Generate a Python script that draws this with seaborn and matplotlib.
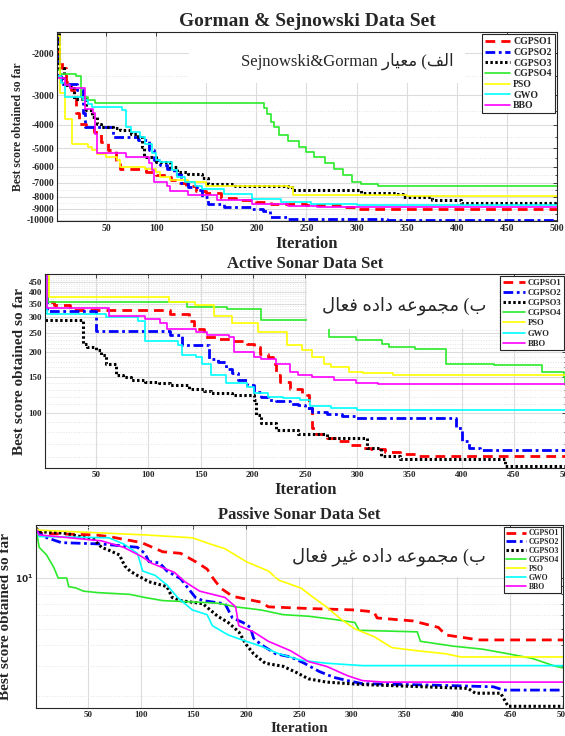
import numpy as np
import matplotlib
matplotlib.use("Agg")
import matplotlib.pyplot as plt
import seaborn as sns
from matplotlib.patches import Rectangle
from matplotlib.ticker import FixedLocator, FixedFormatter, NullFormatter

# (iteration, best score) breakpoints
ALGOS = ["CGPSO1", "CGPSO2", "CGPSO3", "CGPSO4", "PSO", "GWO", "BBO"]

# Gorman & Sejnowski
GS_CGPSO1 = [(1, -1700), (3, -2150), (6, -2300), (10, -2650), (15, -2850), (20, -3550), (23, -3950), (30, -4100),
             (38, -4300), (45, -4700), (52, -5100), (60, -5700), (64, -6100), (75, -6150), (90, -6300), (100, -6500),
             (110, -6600), (115, -6800), (122, -7000), (130, -7200), (140, -7550), (150, -7750), (165, -8100),
             (180, -8300), (200, -8400), (215, -8550), (250, -8700), (285, -8850), (300, -9000), (500, -9000)]
GS_CGPSO2 = [(1, -1700), (3, -2500), (5, -2700), (21, -2850), (27, -3580), (29, -4080), (57, -4500), (82, -4640),
             (93, -5120), (98, -5640), (104, -5900), (111, -6100), (118, -6400), (125, -7000), (132, -7300),
             (141, -7500), (146, -8000), (152, -8600), (168, -8850), (196, -9000), (207, -9200), (214, -9770),
             (232, -9950), (330, -10000), (500, -10000)]
GS_CGPSO3 = [(1, -1600), (3, -2300), (8, -2720), (14, -2800), (18, -3100), (30, -3470), (36, -3700), (41, -3950),
             (45, -4080), (57, -4140), (64, -4200), (75, -4350), (82, -4500), (86, -4950), (88, -5450), (100, -5740),
             (114, -6000), (121, -6300), (132, -6400), (146, -6700), (152, -7050), (179, -7200), (232, -7300),
             (236, -7500), (304, -7700), (339, -7800), (346, -8050), (375, -8250), (404, -8500), (500, -8500)]
GS_CGPSO4 = [(1, -2350), (4, -2450), (20, -2500), (25, -3050), (32, -3150), (39, -3250), (204, -3250), (208, -3400),
             (211, -3600), (215, -3900), (218, -4080), (223, -4420), (232, -4650), (243, -4950), (250, -5200),
             (257, -5450), (268, -5800), (277, -6100), (286, -6500), (295, -6950), (304, -7080), (321, -7200),
             (339, -7250), (500, -7250)]
GS_PSO = [(1, -1700), (4, -2950), (9, -3770), (16, -4800), (32, -4950), (36, -5100), (41, -5300), (50, -5460),
          (61, -5640), (64, -6000), (89, -6100), (100, -6300), (104, -6600), (114, -6800), (132, -6950),
          (150, -7200), (232, -7300), (237, -7900), (350, -7940), (500, -7940)]
GS_GWO = [(1, -2500), (5, -2670), (9, -3050), (27, -3150), (32, -3260), (36, -3360), (66, -3470), (70, -4080),
          (75, -4300), (84, -4500), (89, -4800), (96, -5270), (100, -5640), (104, -5740), (116, -6200), (121, -6600),
          (129, -6950), (139, -7200), (146, -7400), (168, -7800), (196, -8200), (225, -8450), (254, -8600),
          (300, -8650), (500, -8650)]
GS_BBO = [(1, -2550), (9, -2720), (14, -2800), (29, -3420), (37, -3580), (39, -4350), (41, -5270), (70, -5450),
          (93, -5800), (96, -6200), (98, -6950), (111, -7200), (114, -7550), (132, -7900), (161, -8300),
          (196, -8600), (232, -8750), (260, -8800), (500, -8800)]

# Active sonar
AS_CGPSO1 = [(1, 480), (3, 355), (10, 345), (25, 325), (120, 325), (121, 311), (139, 288), (144, 262), (153, 238),
             (167, 234), (180, 227), (194, 221), (201, 213), (207, 197), (215, 190), (219, 176), (222, 154),
             (226, 143), (236, 132), (247, 125), (252, 122), (254, 105), (257, 84), (261, 78), (271, 75), (281, 72),
             (292, 69), (306, 67), (313, 66), (327, 64), (341, 62), (358, 61), (500, 61)]
AS_CGPSO2 = [(1, 480), (3, 323), (50, 257), (121, 243), (132, 217), (158, 186), (167, 179), (174, 166), (180, 157),
             (186, 145), (194, 137), (201, 127), (208, 120), (215, 116), (222, 114), (236, 111), (243, 109),
             (250, 105), (257, 101), (271, 99), (285, 96), (299, 94), (395, 84), (400, 72), (407, 67), (418, 65.5),
             (500, 65.5)]
AS_CGPSO3 = [(1, 290), (37, 221), (41, 213), (50, 205), (55, 194), (59, 176), (65, 174), (69, 154), (76, 151),
             (83, 146), (97, 143), (110, 141), (121, 138), (139, 131), (153, 128), (160, 126), (180, 122), (201, 116),
             (203, 97), (208, 89), (222, 82), (243, 78), (271, 75), (306, 74.5), (309, 67), (323, 60.6), (341, 59),
             (442, 54.5), (500, 54.5)]
AS_CGPSO4 = [(1, 480), (4, 355), (137, 336), (175, 329), (208, 290), (273, 238), (299, 230), (324, 221), (330, 213),
             (355, 209), (385, 176), (431, 173), (477, 160), (498, 151), (499, 137), (500, 137)]
AS_PSO = [(1, 480), (5, 379), (120, 355), (145, 345), (163, 305), (180, 280), (205, 254), (233, 217), (247, 205),
          (257, 190), (268, 176), (275, 169), (292, 160), (306, 157), (334, 154), (500, 154)]
AS_GWO = [(1, 480), (3, 311), (59, 300), (90, 288), (97, 228), (128, 218), (132, 195), (146, 189), (151, 176),
          (160, 154), (174, 141), (194, 135), (201, 125), (215, 120), (229, 118), (245, 116), (255, 108),
          (275, 105), (300, 103), (500, 103)]
AS_BBO = [(1, 500), (3, 333), (62, 305), (97, 294), (111, 280), (118, 262), (146, 252), (156, 243), (177, 238),
          (182, 201), (201, 190), (208, 186), (222, 176), (236, 160), (243, 154), (257, 151), (278, 146), (299, 141),
          (320, 139), (500, 139)]

# Passive sonar
PS_CGPSO1 = [(1, 19.7), (4, 18.4), (56, 18.0), (70, 17.6), (101, 16.2), (121, 14.3), (138, 14.0), (152, 12.5),
             (163, 11.3), (169, 9.9), (176, 8.7), (187, 7.8), (200, 7.5), (214, 7.2), (221, 6.75), (259, 6.6),
             (303, 6.47), (321, 6.3), (324, 5.8), (358, 5.57), (382, 5.1), (389, 4.6), (410, 4.4), (420, 4.3),
             (500, 4.3)]
PS_CGPSO2 = [(1, 19.7), (8, 17.6), (25, 16.2), (63, 15.9), (97, 15.2), (104, 14.0), (108, 12.5), (118, 12.3),
             (125, 11.0), (138, 9.9), (145, 8.7), (152, 7.67), (159, 7.35), (180, 7.04), (187, 5.8), (197, 5.45),
             (204, 5.1), (207, 4.4), (214, 4.04), (221, 3.79), (228, 3.56), (242, 3.41), (255, 3.13), (269, 2.8),
             (283, 2.58), (296, 2.47), (310, 2.37), (379, 2.32), (434, 2.27), (444, 2.17), (500, 2.17)]
PS_CGPSO3 = [(1, 19.7), (4, 18.8), (29, 18.4), (56, 16.9), (63, 15.2), (70, 14.6), (80, 13.7), (85, 11.8),
             (90, 11.0), (97, 10.35), (108, 9.5), (125, 8.9), (130, 7.67), (138, 7.35), (159, 7.04), (173, 5.94),
             (183, 5.45), (193, 4.8), (200, 4.04), (207, 3.56), (218, 3.13), (235, 3.0), (248, 2.75), (259, 2.53),
             (276, 2.42), (310, 2.34), (410, 2.22), (417, 2.08), (441, 2.08), (448, 1.74), (500, 1.74)]
PS_CGPSO4 = [(1, 19.6), (4, 15.2), (11, 13.7), (18, 11.5), (22, 10.0), (30, 10.0), (32, 8.9), (39, 8.72),
             (46, 8.36), (59, 8.2), (90, 8.0), (104, 7.67), (121, 7.35), (173, 7.1), (190, 6.75), (214, 6.47),
             (235, 6.07), (259, 5.94), (283, 5.69), (303, 5.45), (307, 4.9), (362, 4.8), (365, 4.22), (396, 3.95),
             (424, 3.79), (448, 3.56), (471, 3.34), (493, 3.0), (500, 2.94)]
PS_PSO = [(1, 19.6), (4, 19.2), (104, 18.0), (149, 17.3), (166, 15.9), (180, 14.9), (200, 12.5), (221, 11.0),
          (231, 9.7), (252, 8.72), (262, 7.8), (276, 6.75), (290, 5.69), (303, 5.0), (321, 4.5), (338, 3.87),
          (362, 3.71), (389, 3.56), (403, 3.41), (500, 3.41)]
PS_GWO = [(1, 19.6), (4, 17.6), (70, 17.3), (84, 15.9), (97, 14.0), (102, 11.0), (114, 10.35), (125, 9.1),
          (135, 7.67), (149, 6.47), (163, 6.07), (168, 5.22), (183, 4.6), (200, 4.22), (214, 3.95), (231, 3.56),
          (252, 3.26), (276, 3.13), (310, 3.03), (500, 3.03)]
PS_BBO = [(1, 19.6), (4, 18.0), (63, 16.6), (84, 15.2), (101, 13.4), (111, 12.2), (132, 10.8), (142, 9.5),
          (156, 8.36), (180, 7.67), (190, 6.75), (193, 5.22), (207, 4.8), (221, 4.22), (242, 3.71), (259, 3.2),
          (276, 3.0), (296, 2.64), (310, 2.47), (330, 2.42), (500, 2.42)]

GS_TICKS = [-10000, -9000, -8000, -7000, -6000, -5000, -4000, -3000, -2000]
AS_TICKS = [100, 150, 200, 250, 300, 350, 400, 450]
X_TICKS = [50, 100, 150, 200, 250, 300, 350, 400, 450, 500]

# Arabic captions, already shaped into presentation forms in visual order
GS_NOTE = "Sejnowski&Gorman \uFEAD\uFE8E\uFEF4\uFECC\uFEE3 (\uFED2\uFEDF\uFE8D"
AS_NOTE = "\uFEDD\uFE8E\uFECC\uFED3 \uFEE9\uFEA9\uFE8D\uFEA9 \uFEEA\uFECB\uFEEE\uFEE4\uFEA0\uFEE3 (\uFE8F"
PS_NOTE = ("\uFEDD\uFE8E\uFECC\uFED3 \uFEAE\uFEF4\uFECF \uFEE9\uFEA9\uFE8D\uFEA9 "
           "\uFEEA\uFECB\uFEEE\uFEE4\uFEA0\uFEE3 (\uFE8F")

COLORS = {"CGPSO1": "#ff0000", "CGPSO2": "#0000ff", "CGPSO3": "#000000", "CGPSO4": "#2bea2b",
          "PSO": "#ffff00", "GWO": "#00ffff", "BBO": "#ff00ff"}
STYLES = {"CGPSO1": (0, (3.5, 2.2)), "CGPSO2": (0, (3.5, 1.3, 1.0, 1.3)), "CGPSO3": (0, (0.8, 0.8)),
          "CGPSO4": "-", "PSO": "-", "GWO": "-", "BBO": "-"}
WIDTHS = {"CGPSO1": 2.0, "CGPSO2": 2.0, "CGPSO3": 2.2, "CGPSO4": 1.2, "PSO": 1.2, "GWO": 1.2, "BBO": 1.2}

sns.set_style("white")
plt.rcParams["font.family"] = ["Liberation Serif", "DejaVu Sans"]
plt.rcParams["font.weight"] = "bold"
plt.rcParams["axes.unicode_minus"] = False


def draw_curves(ax, series, drawstyle):
    for name, pts in zip(ALGOS, series):
        it = [p[0] for p in pts]
        val = [p[1] for p in pts]
        sns.lineplot(x=it, y=val, ax=ax, color=COLORS[name], linestyle=STYLES[name],
                     linewidth=WIDTHS[name], drawstyle=drawstyle, estimator=None, sort=False,
                     label=name, legend=False)


def style_axes(ax, title, title_size, ylabel_size, xlabel_size, tick_size, legend_size, leg_space,
               note, note_box, note_xy, note_size):
    ax.set_xlim(1, 500)
    ax.xaxis.set_major_locator(FixedLocator(X_TICKS))
    ax.set_title(title, fontsize=title_size, fontweight="bold", pad=4)
    ax.set_xlabel("Iteration", fontsize=xlabel_size, fontweight="bold", labelpad=2)
    ax.set_ylabel("Best score obtained so far", fontsize=ylabel_size, fontweight="bold", labelpad=2)
    ax.grid(True, which="major", color="#dcdcdc", linewidth=0.8)
    ax.grid(True, which="minor", axis="y", color="#e2e2e2", linestyle=":", linewidth=0.7)
    ax.tick_params(which="both", direction="in", top=True, right=True, width=0.6, labelsize=tick_size, pad=2)
    ax.tick_params(which="major", length=3)
    ax.tick_params(which="minor", length=1.5)
    for s in ax.spines.values():
        s.set_linewidth(0.8)
        s.set_color("#262626")
    x0, x1, y0 = note_box
    ax.add_patch(Rectangle((x0, y0), x1 - x0, 1 - y0, transform=ax.transAxes,
                           facecolor="white", edgecolor="none", zorder=2.2))
    ax.text(note_xy[0], note_xy[1], note, transform=ax.transAxes, ha="center", va="center",
            fontsize=note_size, fontweight="normal", zorder=4)
    leg = ax.legend(loc="upper right", fontsize=legend_size, frameon=True, fancybox=False, framealpha=1,
                    edgecolor="#262626", borderaxespad=0.25, handlelength=2.6, labelspacing=leg_space,
                    borderpad=0.3, handletextpad=0.3)
    leg.get_frame().set_linewidth(0.8)
    leg.set_zorder(5)


fig = plt.figure(figsize=(5.65, 7.36), dpi=100)
W, H = 565.0, 736.0

# ---- Panel 1 ----
ax1 = fig.add_axes([57 / W, 1 - 221 / H, 500 / W, 189 / H])
draw_curves(ax1, [GS_CGPSO1, GS_CGPSO2, GS_CGPSO3, GS_CGPSO4, GS_PSO, GS_GWO, GS_BBO], "steps-post")
ax1.set_yscale("function", functions=(lambda y: -np.log(np.clip(-np.asarray(y, float), 1e-9, None)),
                                      lambda t: -np.exp(-np.asarray(t, float))))
ax1.set_ylim(-10120, -1630)
ax1.yaxis.set_major_locator(FixedLocator(GS_TICKS))
ax1.yaxis.set_major_formatter(FixedFormatter([str(t) for t in GS_TICKS]))
ax1.yaxis.set_minor_locator(FixedLocator([-9500, -8500, -7500, -6500, -5500, -4500, -3500, -2500]))
ax1.yaxis.set_minor_formatter(NullFormatter())
style_axes(ax1, "Gorman & Sejnowski Data Set", 14, 8.5, 12, 7, 7, 0.17, GS_NOTE,
           (0.264, 0.817, 0.728), (0.58, 0.844), 12)

# ---- Panel 2 ----
ax2 = fig.add_axes([45 / W, 1 - 468 / H, 521 / W, 194 / H])
draw_curves(ax2, [AS_CGPSO1, AS_CGPSO2, AS_CGPSO3, AS_CGPSO4, AS_PSO, AS_GWO, AS_BBO], "steps-post")
ax2.set_yscale("log")
ax2.set_ylim(53, 492)
ax2.yaxis.set_major_locator(FixedLocator(AS_TICKS))
ax2.yaxis.set_major_formatter(FixedFormatter([str(t) for t in AS_TICKS]))
ax2.yaxis.set_minor_locator(FixedLocator([v for v in range(60, 500, 10) if v % 50 != 0]))
ax2.yaxis.set_minor_formatter(NullFormatter())
style_axes(ax2, "Active Sonar Data Set", 12, 11, 12, 6.5, 6.2, 0.25, AS_NOTE,
           (0.503, 0.872, 0.716), (0.689, 0.836), 13)

# ---- Panel 3 ----
ax3 = fig.add_axes([36 / W, 1 - 708 / H, 527 / W, 183 / H])
draw_curves(ax3, [PS_CGPSO1, PS_CGPSO2, PS_CGPSO3, PS_CGPSO4, PS_PSO, PS_GWO, PS_BBO], "default")
ax3.set_yscale("log")
ax3.set_ylim(1.7, 20.6)
ax3.yaxis.set_major_locator(FixedLocator([10]))
ax3.yaxis.set_major_formatter(FixedFormatter(["$10^1$"]))
ax3.yaxis.set_minor_locator(FixedLocator([2, 3, 4, 5, 6, 7, 8, 9, 20]))
ax3.yaxis.set_minor_formatter(NullFormatter())
style_axes(ax3, "Passive Sonar Data Set", 12, 11, 11, 6.5, 5.5, 0.12, PS_NOTE,
           (0.454, 0.881, 0.714), (0.669, 0.827), 13)

fig.savefig("out.png", dpi=100)
